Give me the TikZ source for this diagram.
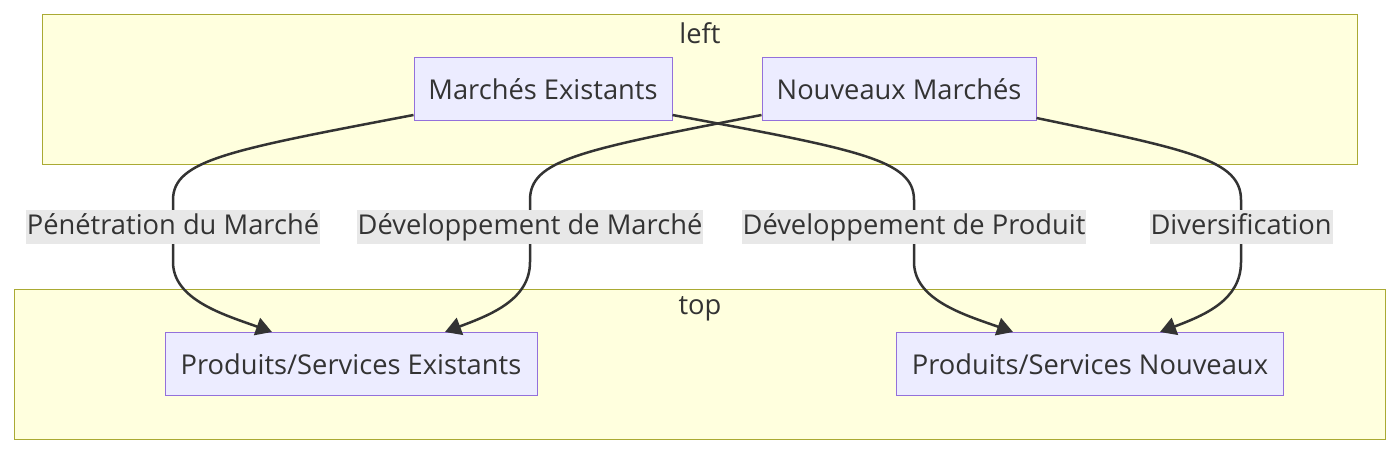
\documentclass[tikz,border=0pt]{standalone}
\usepackage{fontspec}
\setmainfont{Open Sans}
\usetikzlibrary{arrows.meta}
\definecolor{clusterfill}{HTML}{FFFFDE}
\definecolor{clusterdraw}{HTML}{AAAA33}
\definecolor{boxfill}{HTML}{ECECFF}
\definecolor{boxdraw}{HTML}{9370DB}
\definecolor{edgecol}{HTML}{333333}
\definecolor{labelfill}{HTML}{E8E8E8}
\begin{document}
\begin{tikzpicture}[x=1pt,y=-1pt,font=\fontsize{27.3}{33}\selectfont,
  cluster/.style={fill=clusterfill, draw=clusterdraw, line width=1pt},
  market/.style={draw=boxdraw, fill=boxfill, line width=1pt, minimum height=63pt, inner xsep=0pt, text=edgecol},
  edgelabel/.style={fill=labelfill, inner xsep=1pt, inner ysep=4pt, text=edgecol, text height=20pt, text depth=6pt},
  flow/.style={draw=edgecol, line width=2.5pt, -{Triangle[length=16pt,width=18pt]}}]

  \useasboundingbox (0,0) rectangle (1400,453);

  % clusters
  \draw[cluster] (42,14) rectangle (1357,164);
  \draw[cluster] (14,289) rectangle (1385,439);
  \node[text=edgecol] (leftlabel) at (700,33) {left};
  \node[text=edgecol] (toplabel) at (700,309) {top};

  % nodes
  \node[market, minimum width=258pt] (me) at (543,89) {Marchés Existants};
  \node[market, minimum width=274pt] (nm) at (899,89) {Nouveaux Marchés};
  \node[market, minimum width=372pt] (pe) at (351,364) {Produits/Services Existants};
  \node[market, minimum width=387pt] (pn) at (1090,364) {Produits/Services Nouveaux};

  % edges
  \draw[flow] (me.west|-0,115) .. controls (230,150) and (173,160) .. (173,200)
    -- (173,262) .. controls (173,300) and (225,315) .. (pe.north west-|272,0);
  \draw[flow] (nm.west|-0,115) .. controls (580,150) and (530,160) .. (530,200)
    -- (530,262) .. controls (530,300) and (490,315) .. (pe.north east-|445,0);
  \draw[flow] (me.east|-0,115) .. controls (860,150) and (914,160) .. (914,200)
    -- (914,262) .. controls (914,300) and (965,315) .. (pn.north west-|1013,0);
  \draw[flow] (nm.east|-0,118) .. controls (1190,150) and (1241,160) .. (1241,200)
    -- (1241,262) .. controls (1241,300) and (1205,315) .. (pn.north east-|1160,0);

  % labels
  \node[edgelabel] (l1) at (173,227) {Pénétration du Marché};
  \node[edgelabel] (l2) at (530,227) {Développement de Marché};
  \node[edgelabel] (l3) at (914,227) {Développement de Produit};
  \node[edgelabel] (l4) at (1241,227) {Diversification};

\end{tikzpicture}
\end{document}
